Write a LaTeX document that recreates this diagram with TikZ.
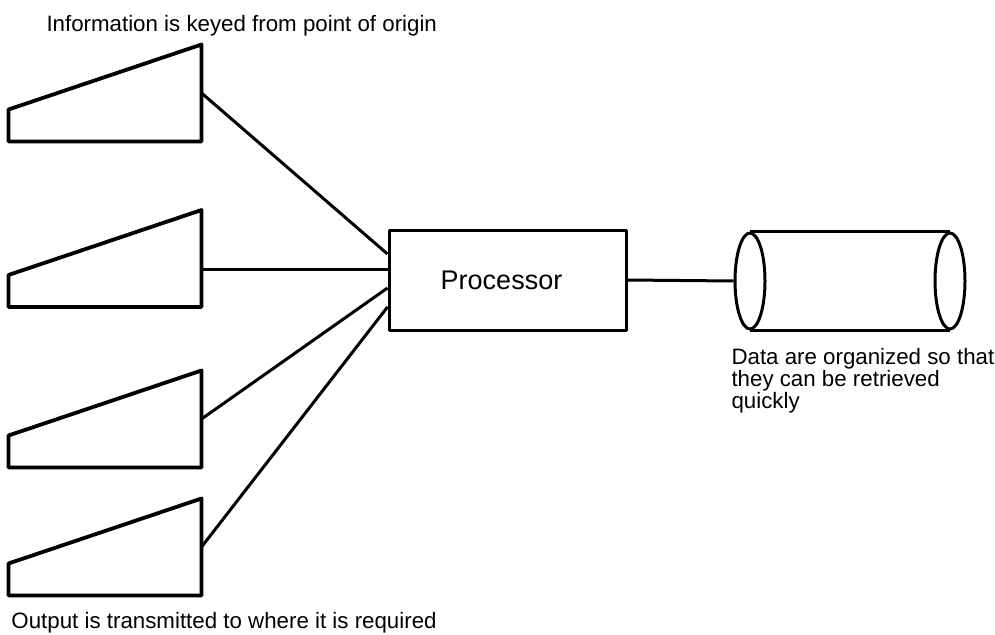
\documentclass[tikz,border=0pt]{standalone}
\usepackage{fontspec}
\setmainfont{Liberation Sans}
\usetikzlibrary{shapes.geometric,positioning}

\begin{document}
\begin{tikzpicture}[x=1pt,y=-1pt,line width=3pt,line join=round,
       note/.style={inner sep=0pt,font=\fontsize{22.3}{22}\selectfont},
       terminal/.style={minimum width=190pt,minimum height=94pt,inner sep=0pt},
       box/.style={draw,minimum width=237pt,minimum height=100pt,font=\fontsize{27}{27}\selectfont},
       disc/.style={ellipse,draw,minimum width=30pt,minimum height=96pt,inner sep=0pt}]
       \useasboundingbox (0,0) rectangle (995,634);

       \foreach \i/\y in {1/93,2/258.5,3/419,4/547} {
         \node[terminal] (t\i) at (105,\y) {};
         \draw[line width=3.8pt] (t\i.south west) -- ([yshift=32pt]t\i.south west)
           -- (t\i.north east) -- (t\i.south east) -- cycle;
       }

       \node[box] (proc) at (507.5,280) {\hspace*{-12pt}Processor};

       \node[disc] (d_l) at (750,281) {};
       \node[disc] (d_r) at (950,281) {};
       \draw (d_l.north) -- (d_r.north) (d_l.south) -- (d_r.south);

       \path[draw]
       (t1.east) edge ([yshift=26pt]proc.west)
       ([yshift=-10.5pt]t2.east) edge ([yshift=11pt]proc.west)
       (t3.east) edge ([yshift=-8pt]proc.west)
       (t4.east) edge ([yshift=-27pt]proc.west)
       (proc.east) edge (d_l.west);

       \node[note,anchor=base west] (origin) at (45,32) {Information is keyed from point of origin};
       \node[note,anchor=base west] (output) at (10,628.5) {Output is transmitted to where it is required};
       \node[note,anchor=north west,align=left] (store) at (730,347)
         {Data are organized so that\\they can be retrieved\\quickly};
     \end{tikzpicture}
\end{document}
